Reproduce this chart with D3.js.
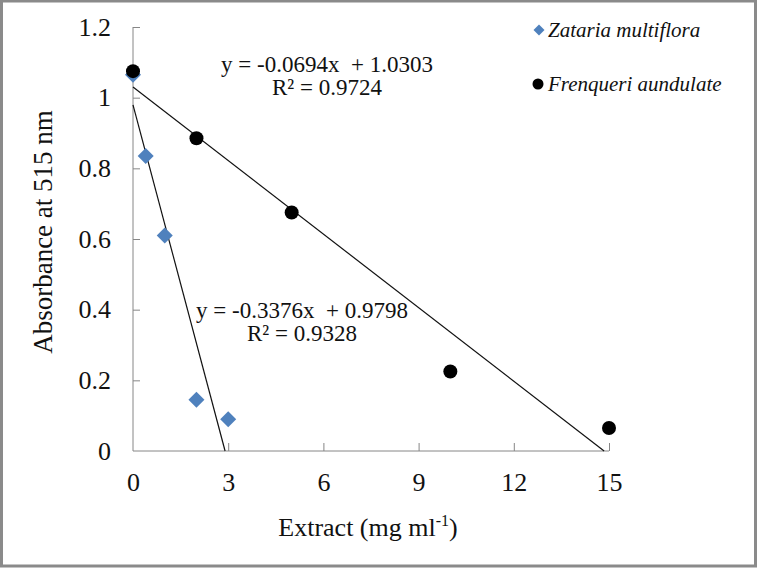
<!DOCTYPE html>
<html>
<head>
<meta charset="utf-8">
<script src="https://cdn.jsdelivr.net/npm/d3@7"></script>
<style>
  html, body { margin: 0; padding: 0; background: #fff; }
  svg { display: block; }
</style>
</head>
<body>
<svg id="chart" width="757" height="568"></svg>
<script>
// values
const zatariaX = [0, 0.4, 1, 2, 3];
const zatariaY = [1.065, 0.835, 0.61, 0.145, 0.09];
const frenqX = [0, 2, 5, 10, 15];
const frenqY = [1.075, 0.885, 0.675, 0.225, 0.065];

// trend lines: [slope, intercept]
const zatariaFit = [-0.3376, 0.9798];
const frenqFit = [-0.0694, 1.0303];

const seriesNames = ['Zataria multiflora', 'Frenqueri aundulate'];
const eqLabels = [
  ['y = -0.3376x  + 0.9798', 'R² = 0.9328'],
  ['y = -0.0694x  + 1.0303', 'R² = 0.9724']
];

const xTicks = [0, 3, 6, 9, 12, 15];
const yTicks = [0, 0.2, 0.4, 0.6, 0.8, 1, 1.2];

const style = {
  font: '"Liberation Serif", "Times New Roman", serif',
  axisColor: '#868686',
  diamond: '#4F81BD',
  dot: '#000',
  tickSize: 26,
  yTitleSize: 27,
  xTitleSize: 26,
  eqSize: 23,
  legendSize: 21
};

const svg = d3.select('#chart');
const W = +svg.attr('width'), H = +svg.attr('height');

// outer frame
svg.append('rect')
  .attr('x', 1.5).attr('y', 1).attr('width', W - 3).attr('height', H - 3)
  .attr('fill', 'none').attr('stroke', '#8a8a8a').attr('stroke-width', 3);

const xScale = d3.scaleLinear().domain([0, 15]).range([133, 609]);
const yScale = d3.scaleLinear().domain([0, 1.2]).range([451, 27]);

const main = svg.append('g');

// axes
const xAxis = d3.axisBottom(xScale).tickValues(xTicks).tickSize(-8).tickPadding(22).tickFormat(d3.format('d'));
const xSel = main.append('g').attr('transform', `translate(0,${yScale(0)})`).call(xAxis);
xSel.selectAll('.tick text')
  .attr('dy', '0.71em')
  .style('font-family', style.font).style('font-size', style.tickSize + 'px').attr('fill', '#111');
xSel.selectAll('.tick line').attr('stroke', style.axisColor);
xSel.select('.domain').attr('stroke', style.axisColor).attr('d', `M${xScale(0)},0H${xScale(15)}`);
xSel.selectAll('.tick').filter(d => d === 0).select('line').remove();

const yAxis = d3.axisLeft(yScale).tickValues(yTicks).tickSize(-7).tickPadding(22).tickFormat(d => d3.format('~g')(d));
const ySel = main.append('g').attr('transform', `translate(${xScale(0)},0)`).call(yAxis);
ySel.selectAll('.tick text')
  .style('font-family', style.font).style('font-size', style.tickSize + 'px').attr('fill', '#111');
ySel.selectAll('.tick line').attr('stroke', style.axisColor);
ySel.select('.domain').attr('stroke', style.axisColor).attr('d', `M0,${yScale(1.2)}V${yScale(0)}`);
ySel.selectAll('.tick').filter(d => d === 0).select('line').remove();

// axis titles
svg.append('text')
  .attr('transform', `translate(52,232) rotate(-90)`)
  .attr('text-anchor', 'middle')
  .style('font-family', style.font).style('font-size', style.yTitleSize + 'px')
  .attr('fill', '#111')
  .text('Absorbance at 515 nm');

const xt = svg.append('text')
  .attr('x', 368).attr('y', 536)
  .attr('text-anchor', 'middle')
  .style('font-family', style.font).style('font-size', style.xTitleSize + 'px')
  .attr('fill', '#111');
xt.append('tspan').text('Extract (mg ml');
xt.append('tspan').attr('dy', -10).style('font-size', '16px').text('-1');
xt.append('tspan').attr('dy', 10).text(')');

// trend lines, drawn to where they hit zero
const fits = [zatariaFit, frenqFit];
fits.forEach(([m, b]) => {
  const xEnd = -b / m;
  main.append('line')
    .attr('x1', xScale(0)).attr('y1', yScale(b))
    .attr('x2', xScale(xEnd)).attr('y2', yScale(0))
    .attr('stroke', '#111').attr('stroke-width', 1.2);
});

// points
const zData = zatariaX.map((x, i) => ({ x, y: zatariaY[i] }));
const fData = frenqX.map((x, i) => ({ x, y: frenqY[i] }));
const diamondPath = s => `M0,${-s}L${s},0L0,${s}L${-s},0Z`;

main.selectAll('path.zat')
  .data(zData)
  .enter()
  .append('path')
    .attr('class', 'zat')
    .attr('d', diamondPath(8))
    .attr('transform', d => `translate(${xScale(d.x)},${yScale(d.y)})`)
    .attr('fill', style.diamond);

main.selectAll('circle.fren')
  .data(fData)
  .enter()
  .append('circle')
    .attr('class', 'fren')
    .attr('cx', d => xScale(d.x))
    .attr('cy', d => yScale(d.y))
    .attr('r', 7)
    .attr('fill', style.dot);

// equations
const eqPos = [[302, 318], [327, 72]];
eqLabels.forEach((lines, i) => {
  lines.forEach((t, j) => {
    svg.append('text')
      .attr('x', eqPos[i][0]).attr('y', eqPos[i][1] + j * 23)
      .attr('text-anchor', 'middle')
      .style('font-family', style.font).style('font-size', style.eqSize + 'px')
      .style('white-space', 'pre')
      .attr('fill', '#111')
      .text(t);
  });
});

// legend
const legend = svg.append('g');
const legendY = [30, 84];
legend.append('path')
  .attr('d', diamondPath(5.5))
  .attr('transform', `translate(539,${legendY[0]})`)
  .attr('fill', style.diamond);
legend.append('circle')
  .attr('cx', 538).attr('cy', legendY[1]).attr('r', 5.5)
  .attr('fill', style.dot);
seriesNames.forEach((name, i) => {
  legend.append('text')
    .attr('x', 548).attr('y', legendY[i])
    .attr('dy', '0.35em')
    .style('font-family', style.font).style('font-size', style.legendSize + 'px')
    .style('font-style', 'italic')
    .attr('fill', '#111')
    .text(name);
});
</script>
</body>
</html>
